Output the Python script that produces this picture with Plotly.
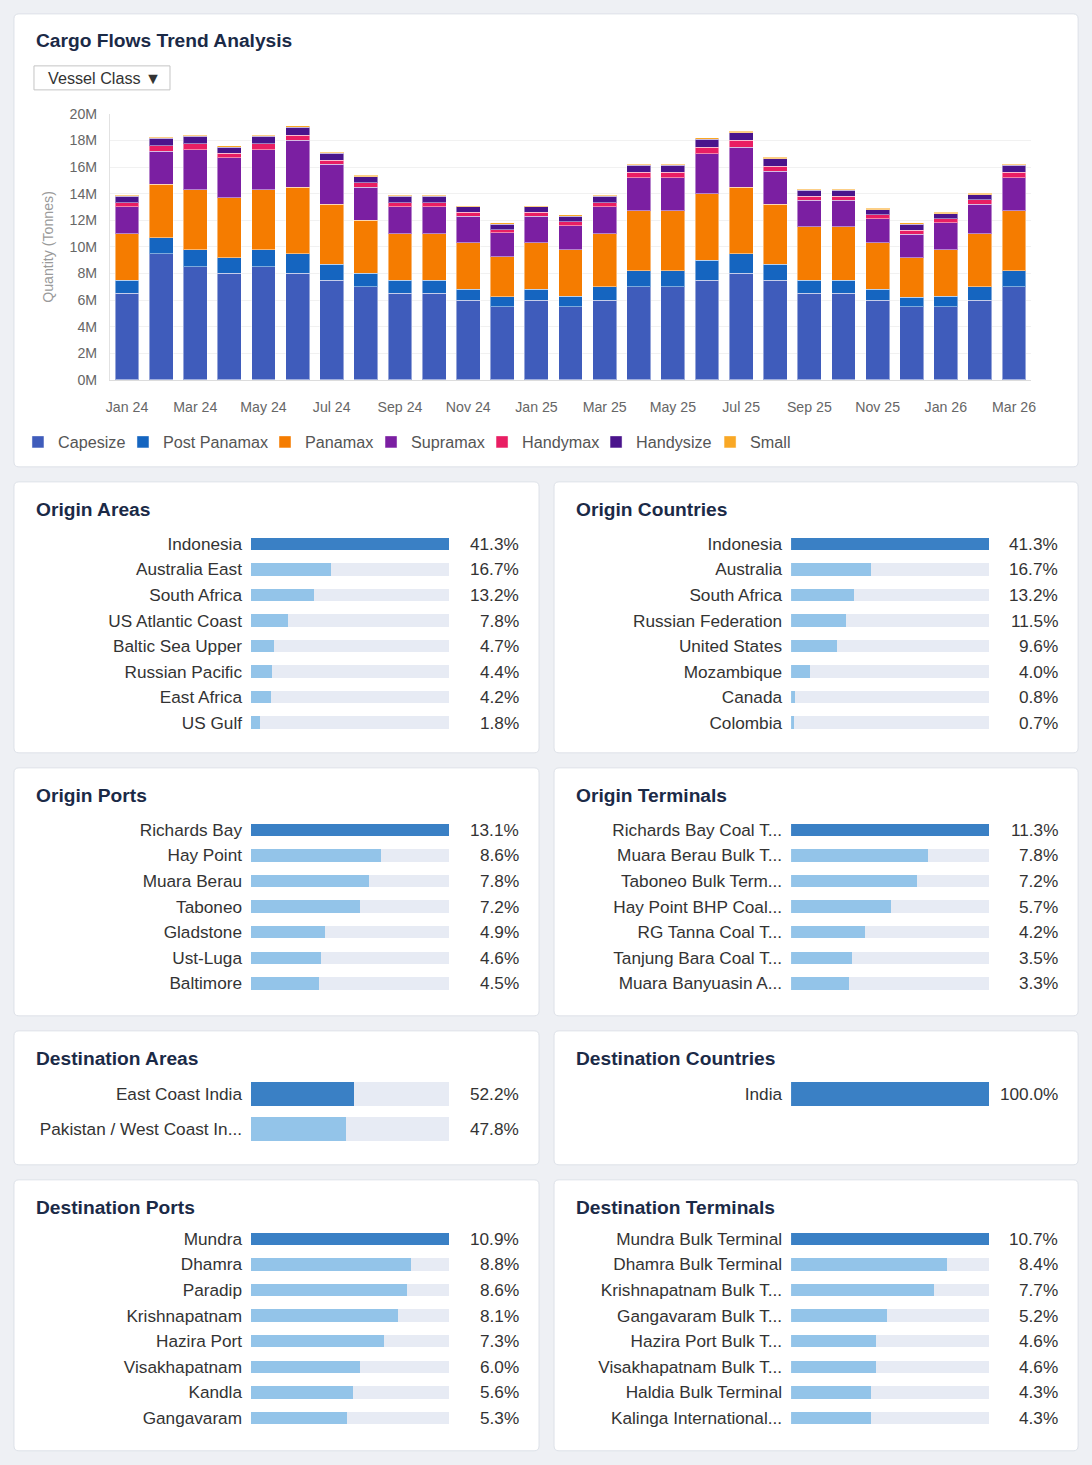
import plotly.graph_objects as go

# ---------------- DATA ----------------
months = ["Jan 24", "Feb 24", "Mar 24", "Apr 24", "May 24", "Jun 24", "Jul 24", "Aug 24",
          "Sep 24", "Oct 24", "Nov 24", "Dec 24", "Jan 25", "Feb 25", "Mar 25", "Apr 25",
          "May 25", "Jun 25", "Jul 25", "Aug 25", "Sep 25", "Oct 25", "Nov 25", "Dec 25",
          "Jan 26", "Feb 26", "Mar 26"]

# values in million tonnes
capesize = [6.5, 9.5, 8.5, 8.0, 8.5, 8.0, 7.5, 7.0, 6.5, 6.5, 6.0, 5.5, 6.0, 5.5, 6.0, 7.0,
            7.0, 7.5, 8.0, 7.5, 6.5, 6.5, 6.0, 5.5, 5.5, 6.0, 7.0]
post_panamax = [1.0, 1.2, 1.3, 1.2, 1.3, 1.5, 1.2, 1.0, 1.0, 1.0, 0.8, 0.75, 0.8, 0.8, 1.0, 1.2,
                1.2, 1.5, 1.5, 1.2, 1.0, 1.0, 0.8, 0.7, 0.8, 1.0, 1.2]
panamax = [3.5, 4.0, 4.5, 4.5, 4.5, 5.0, 4.5, 4.0, 3.5, 3.5, 3.5, 3.0, 3.5, 3.5, 4.0, 4.5,
           4.5, 5.0, 5.0, 4.5, 4.0, 4.0, 3.5, 3.0, 3.5, 4.0, 4.5]
supramax = [2.0, 2.5, 3.0, 3.0, 3.0, 3.5, 3.0, 2.5, 2.0, 2.0, 2.0, 1.8, 2.0, 1.8, 2.0, 2.5,
            2.5, 3.0, 3.0, 2.5, 2.0, 2.0, 1.8, 1.75, 2.0, 2.2, 2.5]
handymax = [0.3, 0.4, 0.45, 0.35, 0.45, 0.4, 0.33, 0.33, 0.3, 0.3, 0.3, 0.25, 0.3, 0.28, 0.3, 0.43,
            0.43, 0.5, 0.5, 0.38, 0.3, 0.3, 0.3, 0.3, 0.3, 0.33, 0.43]
handysize = [0.5, 0.55, 0.55, 0.45, 0.55, 0.6, 0.5, 0.45, 0.5, 0.5, 0.4, 0.4, 0.4, 0.43, 0.5, 0.5,
             0.5, 0.6, 0.6, 0.55, 0.45, 0.45, 0.4, 0.45, 0.4, 0.4, 0.5]
small = [0.1, 0.1, 0.1, 0.1, 0.1, 0.1, 0.1, 0.1, 0.1, 0.1, 0.1, 0.1, 0.1, 0.1, 0.1, 0.1,
         0.1, 0.1, 0.1, 0.1, 0.1, 0.1, 0.1, 0.1, 0.1, 0.1, 0.1]

y_ticks = [0, 2, 4, 6, 8, 10, 12, 14, 16, 18, 20]
x_ticks = ["Jan 24", "Mar 24", "May 24", "Jul 24", "Sep 24", "Nov 24", "Jan 25", "Mar 25",
           "May 25", "Jul 25", "Sep 25", "Nov 25", "Jan 26", "Mar 26"]

origin_areas_labels = ["Indonesia", "Australia East", "South Africa", "US Atlantic Coast",
                       "Baltic Sea Upper", "Russian Pacific", "East Africa", "US Gulf"]
origin_areas_values = [41.3, 16.7, 13.2, 7.8, 4.7, 4.4, 4.2, 1.8]

origin_countries_labels = ["Indonesia", "Australia", "South Africa", "Russian Federation",
                           "United States", "Mozambique", "Canada", "Colombia"]
origin_countries_values = [41.3, 16.7, 13.2, 11.5, 9.6, 4.0, 0.8, 0.7]

origin_ports_labels = ["Richards Bay", "Hay Point", "Muara Berau", "Taboneo", "Gladstone",
                       "Ust-Luga", "Baltimore"]
origin_ports_values = [13.1, 8.6, 7.8, 7.2, 4.9, 4.6, 4.5]

origin_terminals_labels = ["Richards Bay Coal T...", "Muara Berau Bulk T...", "Taboneo Bulk Term...",
                           "Hay Point BHP Coal...", "RG Tanna Coal T...", "Tanjung Bara Coal T...",
                           "Muara Banyuasin A..."]
origin_terminals_values = [11.3, 7.8, 7.2, 5.7, 4.2, 3.5, 3.3]

dest_areas_labels = ["East Coast India", "Pakistan / West Coast In..."]
dest_areas_values = [52.2, 47.8]

dest_countries_labels = ["India"]
dest_countries_values = [100.0]

dest_ports_labels = ["Mundra", "Dhamra", "Paradip", "Krishnapatnam", "Hazira Port",
                     "Visakhapatnam", "Kandla", "Gangavaram"]
dest_ports_values = [10.9, 8.8, 8.6, 8.1, 7.3, 6.0, 5.6, 5.3]

dest_terminals_labels = ["Mundra Bulk Terminal", "Dhamra Bulk Terminal", "Krishnapatnam Bulk T...",
                         "Gangavaram Bulk T...", "Hazira Port Bulk T...", "Visakhapatnam Bulk T...",
                         "Haldia Bulk Terminal", "Kalinga International..."]
dest_terminals_values = [10.7, 8.4, 7.7, 5.2, 4.6, 4.6, 4.3, 4.3]

# ---------------- LAYOUT HELPERS ----------------
PAGE_W, PAGE_H = 1092, 1465
BODY_MARGIN = 8                      # default page margin around the figure
W, H = PAGE_W - 2 * BODY_MARGIN, PAGE_H - 2 * BODY_MARGIN
FONT = "Liberation Sans, Arial, Helvetica, sans-serif"
TITLE_COLOR = "#1b2a47"
PAGE_BG = "#eef0f4"

# picture-space -> page-space calibration (observed in the photographed output)
SX, OX = 0.9915, 4.1
SY, OY = 0.989, 8.2


def fx(px):
    page = (px - OX) / SX
    return (page - BODY_MARGIN) / W


def fy(py):
    page = (py - OY) / SY
    return 1 - (page - BODY_MARGIN) / H


def fs(size):
    return round(size / SY, 2)


def rounded_rect(x0, y0, x1, y1, r=5):
    rx, ry = r / W, r / H
    X0, X1 = fx(x0), fx(x1)
    Y0, Y1 = fy(y0), fy(y1)  # Y0 top, Y1 bottom
    return (f"M{X0 + rx},{Y0} L{X1 - rx},{Y0} Q{X1},{Y0} {X1},{Y0 - ry} "
            f"L{X1},{Y1 + ry} Q{X1},{Y1} {X1 - rx},{Y1} "
            f"L{X0 + rx},{Y1} Q{X0},{Y1} {X0},{Y1 + ry} "
            f"L{X0},{Y0 - ry} Q{X0},{Y0} {X0 + rx},{Y0} Z")


fig = go.Figure()
shapes = []
annotations = []
legends = {}

# ---------------- TOP CARD: stacked bars ----------------
series = [
    ("Capesize", capesize, "#3f5cbb"),
    ("Post Panamax", post_panamax, "#1565c0"),
    ("Panamax", panamax, "#f57c00"),
    ("Supramax", supramax, "#7b1fa2"),
    ("Handymax", handymax, "#e91e63"),
    ("Handysize", handysize, "#4a148c"),
    ("Small", small, "#f9a825"),
]
# left edge (picture px) of each legend entry's swatch
legend_swatch_x = [34, 139, 281, 387, 498, 612, 726]

for j, (name, vals, col) in enumerate(series):
    lname = "legend" if j == 0 else f"legend{j + 1}"
    fig.add_trace(go.Bar(
        x=months, y=vals, name=name, width=0.7, legend=lname,
        marker=dict(color=col, line=dict(color="rgba(255,255,255,0.45)", width=1)),
        xaxis="x", yaxis="y",
    ))
    legends[lname] = dict(orientation="h", x=fx(legend_swatch_x[j] - 16), xanchor="left",
                          y=fy(425), yanchor="top",
                          font=dict(size=fs(16), color="#555555", family=FONT),
                          bgcolor="rgba(0,0,0,0)", itemwidth=30,
                          itemclick=False, itemdoubleclick=False)

shapes.append(dict(type="path", path=rounded_rect(14, 14, 1078, 467), xref="paper", yref="paper",
                   fillcolor="white", line=dict(color="#dde1e8", width=1), layer="below"))
annotations.append(dict(text="<b>Cargo Flows Trend Analysis</b>", x=fx(34), y=fy(41),
                        xref="paper", yref="paper", xanchor="left", yanchor="middle",
                        showarrow=False, font=dict(size=fs(19), color=TITLE_COLOR, family=FONT)))
shapes.append(dict(type="rect", x0=fx(34), x1=fx(170), y0=fy(66), y1=fy(90), xref="paper",
                   yref="paper", fillcolor="white", line=dict(color="#c4c4c4", width=1), layer="below"))
annotations.append(dict(text="Vessel Class ▼", x=fx(46), y=fy(78.5), xref="paper", yref="paper",
                        xanchor="left", yanchor="middle", showarrow=False,
                        font=dict(size=fs(16), color="#333333", family=FONT)))
annotations.append(dict(text="Quantity (Tonnes)", x=fx(48), y=fy(247), xref="paper", yref="paper",
                        xanchor="center", yanchor="middle", showarrow=False, textangle=-90,
                        font=dict(size=fs(14), color="#9a9a9a", family=FONT)))

layout_axes = dict(
    xaxis=dict(domain=[fx(110), fx(1031)], anchor="y", type="category",
               categoryorder="array", categoryarray=months, range=[-0.5, len(months) - 0.5],
               tickmode="array", tickvals=x_ticks, ticktext=x_ticks,
               tickfont=dict(size=fs(14), color="#666666", family=FONT),
               showline=True, linecolor="#dcdcdc", linewidth=1, ticks="", ticklabelstandoff=14,
               showgrid=False, zeroline=False, fixedrange=True),
    yaxis=dict(domain=[fy(380), fy(114)], anchor="x", range=[0, 20],
               tickmode="array", tickvals=y_ticks, ticktext=[f"{v}M" for v in y_ticks],
               tickfont=dict(size=fs(14), color="#666666", family=FONT),
               showline=True, linecolor="#e2e2e2", linewidth=1,
               gridcolor="#f1f1f1", gridwidth=1, zeroline=False, ticks="", ticklabelstandoff=9,
               fixedrange=True),
)

# ---------------- PANELS ----------------
panels = [
    ("Origin Areas", origin_areas_labels, origin_areas_values, (14, 482, 539, 753), 544, 25.55, 12.5),
    ("Origin Countries", origin_countries_labels, origin_countries_values, (554, 482, 1078, 753), 544, 25.55, 12.5),
    ("Origin Ports", origin_ports_labels, origin_ports_values, (14, 768, 539, 1016), 830, 25.6, 12.5),
    ("Origin Terminals", origin_terminals_labels, origin_terminals_values, (554, 768, 1078, 1016), 830, 25.6, 12.5),
    ("Destination Areas", dest_areas_labels, dest_areas_values, (14, 1031, 539, 1165), 1094, 35, 24),
    ("Destination Countries", dest_countries_labels, dest_countries_values, (554, 1031, 1078, 1165), 1094, 35, 24),
    ("Destination Ports", dest_ports_labels, dest_ports_values, (14, 1180, 539, 1451), 1239, 25.6, 12.5),
    ("Destination Terminals", dest_terminals_labels, dest_terminals_values, (554, 1180, 1078, 1451), 1239, 25.6, 12.5),
]

DARK = "#3a80c5"
LIGHT = "#93c4e9"
TRACK = "#e7ebf4"

for k, (title, labels, values, card, first_y, pitch, barh) in enumerate(panels):
    i = k + 2
    cx0, cy0, cx1, cy1 = card
    n = len(labels)
    scale = 100.0 if max(values) > 50 else max(values)
    frac = [v / scale for v in values]
    rest = [1 - f for f in frac]
    w = barh / pitch
    colors = [DARK] + [LIGHT] * (n - 1)

    fig.add_trace(go.Bar(y=labels, x=frac, orientation="h", width=w,
                         marker=dict(color=colors, line=dict(width=0)),
                         xaxis=f"x{i}", yaxis=f"y{i}", showlegend=False, hoverinfo="skip"))
    fig.add_trace(go.Bar(y=labels, x=rest, orientation="h", width=w,
                         marker=dict(color=TRACK, line=dict(width=0)),
                         xaxis=f"x{i}", yaxis=f"y{i}", showlegend=False, hoverinfo="skip"))

    top = first_y - pitch / 2
    bottom = first_y + (n - 1) * pitch + pitch / 2
    bx0 = cx0 + 237
    bx1 = bx0 + 198
    layout_axes[f"xaxis{i}"] = dict(domain=[fx(bx0), fx(bx1)], anchor=f"y{i}", range=[0, 1],
                                    visible=False, fixedrange=True)
    layout_axes[f"yaxis{i}"] = dict(domain=[fy(bottom), fy(top)], anchor=f"x{i}", type="category",
                                    categoryorder="array", categoryarray=labels,
                                    range=[n - 0.5, -0.5], showgrid=False, zeroline=False,
                                    showline=False, ticks="", ticklabelstandoff=8,
                                    tickfont=dict(size=fs(17), color="#333333", family=FONT),
                                    fixedrange=True)

    shapes.append(dict(type="path", path=rounded_rect(cx0, cy0, cx1, cy1), xref="paper", yref="paper",
                       fillcolor="white", line=dict(color="#dde1e8", width=1), layer="below"))
    annotations.append(dict(text=f"<b>{title}</b>", x=fx(cx0 + 20), y=fy(cy0 + 28),
                            xref="paper", yref="paper", xanchor="left", yanchor="middle",
                            showarrow=False, font=dict(size=fs(19), color=TITLE_COLOR, family=FONT)))
    for lab, v in zip(labels, values):
        annotations.append(dict(text=f"{v:.1f}%", x=fx(cx1 - 18), y=lab, xref="paper",
                                yref=f"y{i}", xanchor="right", yanchor="middle", showarrow=False,
                                font=dict(size=fs(17), color="#333333", family=FONT)))

fig.update_layout(
    width=W, height=H,
    margin=dict(l=0, r=0, t=0, b=0),
    paper_bgcolor=PAGE_BG,
    plot_bgcolor="rgba(0,0,0,0)",
    barmode="stack",
    font=dict(family=FONT, color="#333333"),
    showlegend=True,
    shapes=shapes,
    annotations=annotations,
    **legends,
    **layout_axes,
)

fig.write_html(
    "out.html",
    config={"displayModeBar": False},
    post_script="document.body.style.background='" + PAGE_BG + "';",
)
